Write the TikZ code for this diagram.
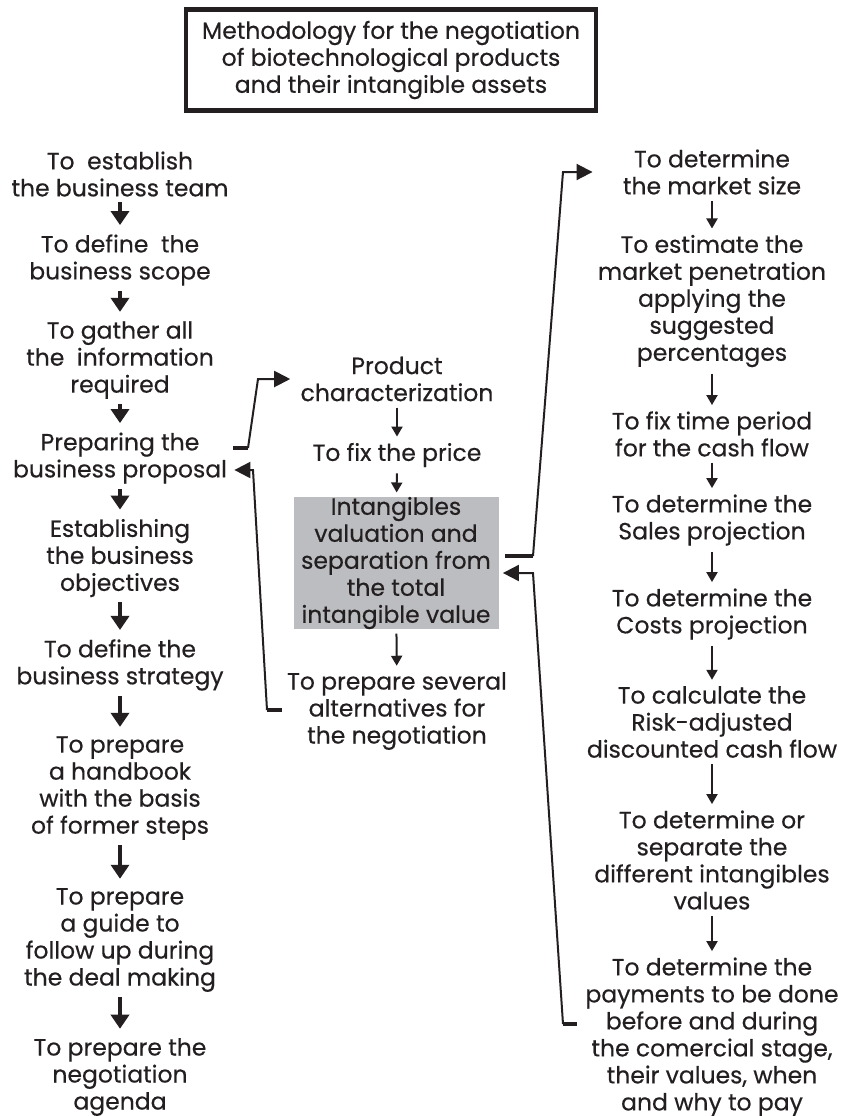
\documentclass[tikz,border=0pt]{standalone}
\usepackage{fontspec}
\setmainfont{Poppins}[FakeBold=0.4]
\usetikzlibrary{arrows.meta,positioning}
\definecolor{mInk}{HTML}{231F20}
\definecolor{mGray}{HTML}{BCBDC0}
\tikzset{
 flow/.style={font=\fontsize{11.75}{13.5}\selectfont,text=mInk,line join=miter},
 stage/.style={align=center,inner sep=1pt},
 titlebox/.style={draw=mInk,line width=2.4pt,align=center,minimum width=205pt,minimum height=50.5pt},
 valuebox/.style={fill=mGray,align=center,inner sep=0pt,minimum width=102.5pt,minimum height=63.5pt},
 bigstep/.style={draw=mInk,line width=2.2pt,-{Triangle[length=7pt,width=9pt]},shorten <=1.5pt,shorten >=3.5pt},
 smallstep/.style={draw=mInk,line width=1pt,-{Triangle[length=5pt,width=5.5pt]},shorten <=2pt,shorten >=2pt},
 link/.style={draw=mInk,line width=1pt,-{Triangle[length=8pt,width=8pt]}},
 stub/.style={draw=mInk,line width=2pt}
}
\begin{document}
\begin{tikzpicture}[flow,x=0.5pt,y=-0.5pt]
 \useasboundingbox (0,0) rectangle (851,1116);
 % title
 \node[titlebox] (title) at (391,60) {Methodology for the negotiation\\of biotechnological products\\and their intangible assets};
 % left column
 \node[stage] (team) at (120,174) {To \ establish\\the business team};
 \node[stage] (scope) at (120,260) {To define \ the\\business scope};
 \node[stage] (info) at (120,360) {To gather all\\the \ information\\required};
 \node[stage] (prop) at (120,458) {Preparing the\\business proposal};
 \node[stage] (obj) at (120,558) {Establishing\\the business\\objectives};
 \node[stage] (strat) at (120,665) {To define the\\business strategy};
 \node[stage] (hand) at (120,788) {To prepare\\a handbook\\with the basis\\of former steps};
 \node[stage] (guide) at (120,940) {To prepare\\a guide to\\follow up during\\the deal making};
 \node[stage] (agenda) at (120,1077) {To prepare the\\negotiation\\agenda};
 % middle column
 \node[stage] (prod) at (397,379) {Product\\characterization};
 \node[stage] (price) at (397,455) {To fix the price};
 \node[valuebox] (value) at (396,563) {Intangibles\\valuation and\\separation from\\the total\\intangible value};
 \node[stage] (alt) at (397,711) {To prepare several\\alternatives for\\the negotiation};
 % right column
 \node[stage] (size) at (712,172) {To determine\\the market size};
 \node[stage] (pen) at (712,301) {To estimate the\\market penetration\\applying the\\suggested\\percentages};
 \node[stage] (period) at (712,434) {To fix time period\\for the cash flow};
 \node[stage] (sales) at (712,520) {To determine the\\Sales projection};
 \node[stage] (costs) at (712,614) {To determine the\\Costs projection};
 \node[stage] (risk) at (712,722) {To calculate the\\Risk-adjusted\\discounted cash flow};
 \node[stage] (sep) at (712,860) {To determine or\\separate the\\different intangibles\\values};
 \node[stage] (pay) at (712,1037) {To determine the\\payments to be done\\before and during\\the comercial stage,\\their values, when\\and why to pay};
 % steps
 \foreach \a/\b in {team/scope,scope/info,info/prop,prop/obj,obj/strat,strat/hand,hand/guide,guide/agenda}
   \draw[bigstep] (\a) -- (\b);
 \foreach \a/\b in {prod/price,price/value,value/alt,size/pen,pen/period,period/sales,sales/costs,costs/risk,risk/sep,sep/pay}
   \draw[smallstep] (\a) -- (\b);
 % side links
 \coordinate (p0) at (233,448); \coordinate (p1) at (248,448); \coordinate (p2) at (258,379);
 \draw[stub] (p0) -- (p1);
 \draw[link] (p1) -- (p2) -- ([xshift=-4pt]prod.west);
 \coordinate (q0) at (282,710); \coordinate (q1) at (267,710); \coordinate (q2) at (253,470);
 \draw[stub] (q0) -- (q1);
 \draw[link] (q1) -- (q2) -- ([shift={(5,0)}]prop.east |- q2);
 \coordinate (v0) at (505,556); \coordinate (v1) at (533,556); \coordinate (v2) at (563,172);
 \draw[stub] (v0) -- (v1);
 \draw[link] (v1) -- (v2) -- ([xshift=-14pt]size.west |- v2);
 \coordinate (w0) at (577,1024); \coordinate (w1) at (563,1024); \coordinate (w2) at (533,573);
 \draw[stub] (w0) -- (w1);
 \draw[link] (w1) -- (w2) -- ([xshift=2pt]value.east |- w2);
\end{tikzpicture}
\end{document}
